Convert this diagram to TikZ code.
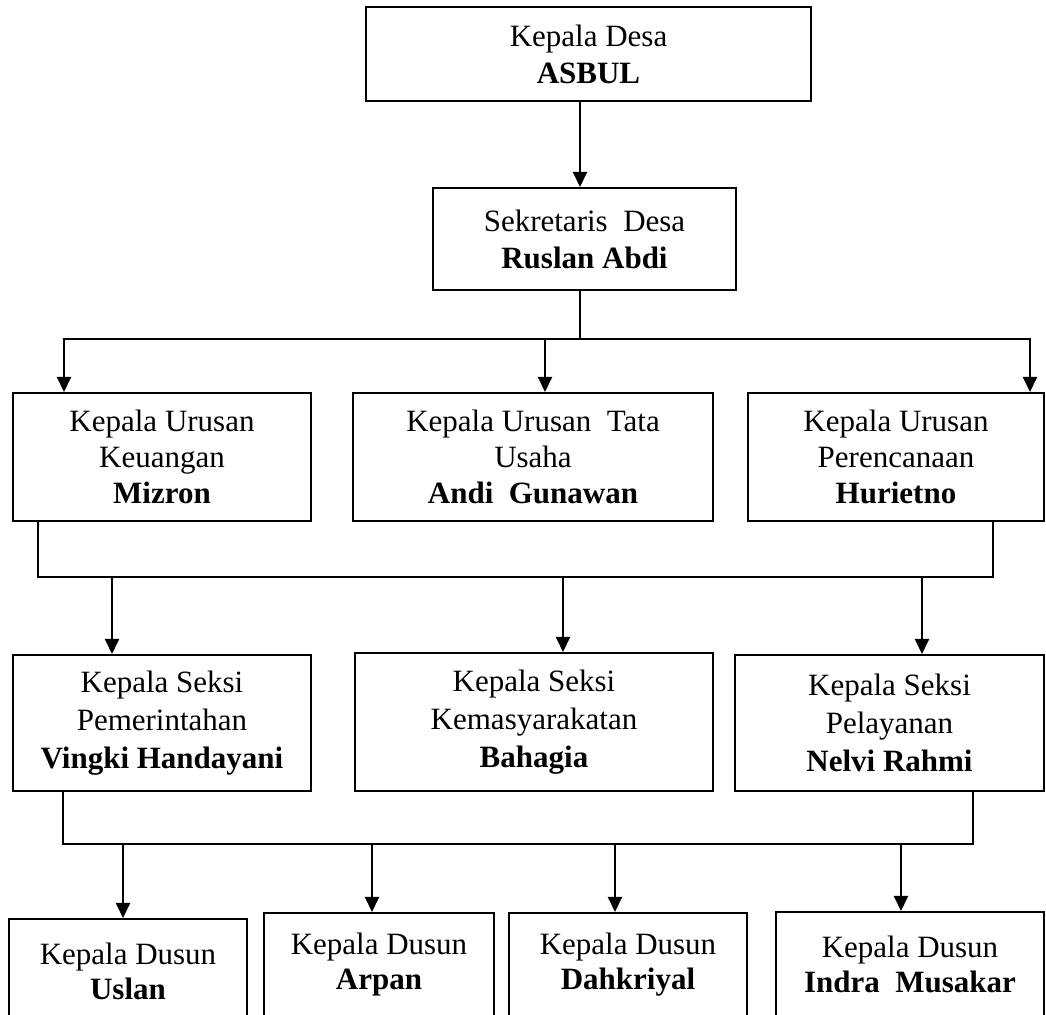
\documentclass[tikz,border=0pt]{standalone}
\usepackage{fontspec}
\setmainfont{Liberation Serif}
\usetikzlibrary{arrows.meta}

\begin{document}
\begin{tikzpicture}[x=0.5pt,y=-0.5pt,
    kotak/.style={draw,line width=1pt,align=center,inner sep=0pt,font=\fontsize{15.5}{18.5}\selectfont},
    urusan/.style={kotak,minimum height=64pt,font=\fontsize{15.5}{17.8}\selectfont},
    seksi/.style={kotak,minimum height=68pt,font=\fontsize{15.5}{19}\selectfont},
    dusun/.style={kotak,minimum height=52pt,font=\fontsize{15.5}{17.5}\selectfont},
    garis/.style={line width=1pt},
    panah/.style={line width=1pt,-{Triangle[width=7pt,length=7.5pt]}}]
    \useasboundingbox (0,0) rectangle (1046,1015);
    \clip (0,0) rectangle (1046,1015);

    % kepala desa dan sekretaris
    \node[kotak,minimum width=222.5pt,minimum height=47pt] (desa) at (588.5,54) {Kepala Desa\\\textbf{ASBUL}};
    \node[kotak,minimum width=151.5pt,minimum height=51pt] (sekdes) at (584.5,239) {Sekretaris\ \ Desa\\\textbf{Ruslan Abdi}};

    % kepala urusan
    \node[urusan,minimum width=149pt] (keu) at (162,457) {Kepala Urusan\\Keuangan\\\textbf{Mizron}};
    \node[urusan,minimum width=180pt] (tu) at (533,457) {Kepala Urusan\ \ Tata\\Usaha\\\textbf{Andi\ \ Gunawan}};
    \node[urusan,minimum width=148pt] (ren) at (896,457) {Kepala Urusan\\Perencanaan\\\textbf{Hurietno}};

    % kepala seksi
    \node[seksi,minimum width=149pt] (pem) at (162,723) {Kepala Seksi\\Pemerintahan\\\textbf{Vingki Handayani}};
    \node[seksi,minimum width=179pt,minimum height=69pt] (kem) at (534,722) {Kepala Seksi\\Kemasyarakatan\\\textbf{Bahagia}};
    \node[seksi,minimum width=154.5pt] (pel) at (889.5,723) {Kepala Seksi\\Pelayanan\\\textbf{Nelvi Rahmi}};

    % kepala dusun
    \node[dusun,minimum width=119pt] (dsn1) at (128,971) {Kepala Dusun\\\textbf{Uslan}};
    \node[dusun,minimum width=115pt] (dsn2) at (379,965) {Kepala Dusun\\\textbf{Arpan}};
    \node[dusun,minimum width=119pt] (dsn3) at (628,965) {Kepala Dusun\\\textbf{Dahkriyal}};
    \node[dusun,minimum width=134pt] (dsn4) at (910,964) {Kepala Dusun\\\textbf{Indra\ \ Musakar}};

    \coordinate (j1) at (580,339);
    \coordinate (k1) at (64,339);
    \coordinate (k2) at (545,339);
    \coordinate (k3) at (1030,339);
    \coordinate (m1) at (38,577);
    \coordinate (m2) at (993,577);
    \coordinate (a1) at (112,577);
    \coordinate (a2) at (563,577);
    \coordinate (a3) at (922,577);
    \coordinate (n1) at (63,844);
    \coordinate (n2) at (973,844);
    \coordinate (b1) at (123,844);
    \coordinate (b2) at (372,844);
    \coordinate (b3) at (615,844);
    \coordinate (b4) at (901,844);

    \draw[panah] (desa.south -| j1) -- (sekdes.north -| j1);
    \draw[garis] (sekdes.south -| j1) -- (j1);
    \draw[panah] (j1) -| (keu.north -| k1);
    \draw[panah] (j1) -| (ren.north -| k3);
    \draw[panah] (k2) -- (tu.north -| k2);

    \draw[garis] (keu.south -| m1) |- (m2) -- (ren.south -| m2);
    \draw[panah] (a1) -- (pem.north -| a1);
    \draw[panah] (a2) -- (kem.north -| a2);
    \draw[panah] (a3) -- (pel.north -| a3);

    \draw[garis] (pem.south -| n1) |- (n2) -- (pel.south -| n2);
    \draw[panah] (b1) -- (dsn1.north -| b1);
    \draw[panah] (b2) -- (dsn2.north -| b2);
    \draw[panah] (b3) -- (dsn3.north -| b3);
    \draw[panah] (b4) -- (dsn4.north -| b4);
\end{tikzpicture}
\end{document}
